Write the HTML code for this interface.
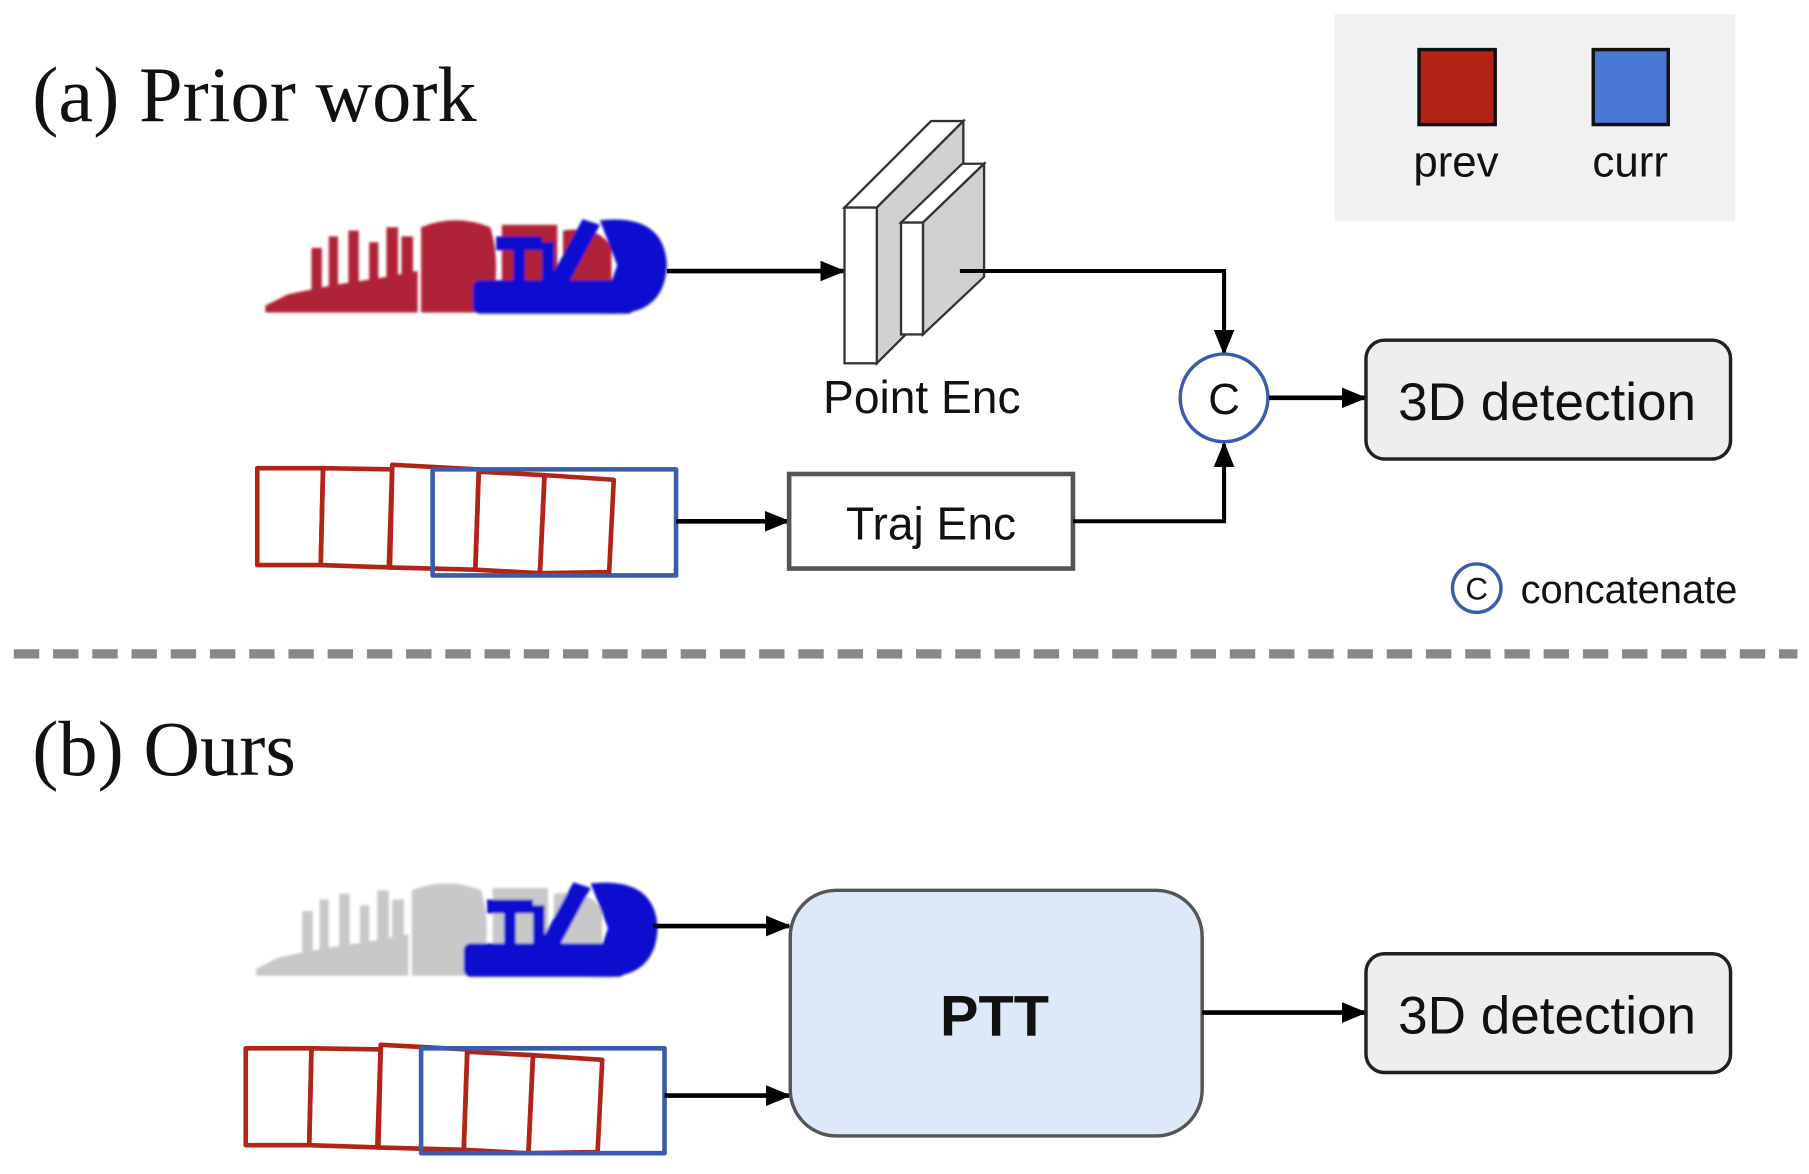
<!DOCTYPE html>
<html><head><meta charset="utf-8"><style>
html,body{margin:0;padding:0;background:#fff;}
svg{display:block;}
text{font-family:"Liberation Sans",sans-serif;fill:#111;}
.serif{font-family:"Liberation Serif",serif;}
</style></head><body>
<svg width="1809" height="1174" viewBox="0 0 1568 1018" preserveAspectRatio="none" xmlns="http://www.w3.org/2000/svg">
<defs>
<marker id="ar" markerWidth="22" markerHeight="18" refX="20" refY="9" orient="auto" markerUnits="userSpaceOnUse" viewBox="0 0 22 18">
<path d="M0,0 L22,9 L0,18 z" fill="#000"/></marker>
<filter id="bl"><feGaussianBlur stdDeviation="1.2"/></filter>
<pattern id="dots" width="5" height="5" patternUnits="userSpaceOnUse">
<rect width="5" height="5" fill="#fff"/><circle cx="3" cy="3" r="0.9" fill="#000"/></pattern>
<mask id="m"><rect x="0" y="0" width="1568" height="1018" fill="url(#dots)"/></mask>
<g id="back">
<polygon points="0,80 20,70 60,62 100,56 132,50 132,86 0,86"/>
<rect x="40" y="30" width="9" height="45"/><rect x="55" y="20" width="8" height="55"/>
<rect x="72" y="15" width="9" height="60"/><rect x="90" y="25" width="8" height="50"/>
<rect x="105" y="12" width="10" height="64"/><rect x="118" y="20" width="10" height="60"/>
<path d="M135,12 Q165,0 195,12 Q205,45 195,86 L135,86 Z"/>
<rect x="205" y="10" width="48" height="62"/>
<path d="M258,15 Q290,10 300,30 L300,80 L258,80 Z"/>
</g>
<g id="front">
<rect x="180" y="58" width="140" height="29" rx="6"/>
<rect x="200" y="20" width="40" height="12"/><rect x="215" y="25" width="10" height="35"/>
<polygon points="245,60 275,5 290,10 262,62"/><rect x="240" y="25" width="10" height="40"/>
<path d="M290,6 Q346,0 348,45 Q346,88 300,87 L290,87 L305,45 Z"/>
</g>
</defs>

<text x="28" y="105" class="serif" font-size="68">(a) Prior work</text>
<rect x="1157" y="12" width="347" height="180" fill="#f1f1f1"/>
<rect x="1230" y="43" width="66" height="65" fill="#b22418" stroke="#111" stroke-width="3"/>
<rect x="1381" y="43" width="65" height="65" fill="#4a78d4" stroke="#111" stroke-width="3"/>
<text x="1262" y="153" font-size="38" text-anchor="middle">prev</text>
<text x="1413" y="153" font-size="38" text-anchor="middle">curr</text>

<g transform="translate(230,185)" filter="url(#bl)">
<use href="#back" fill="#b02438"/><use href="#front" fill="#0a0ad0"/>
</g>
<line x1="578" y1="235" x2="731" y2="235" stroke="#000" stroke-width="4" marker-end="url(#ar)"/>

<g stroke="#333" stroke-width="2">
<polygon points="732,180 807,105 835,105 760,180" fill="#fff"/>
<polygon points="760,180 835,105 835,240 760,315" fill="#d0d0d0"/>
<rect x="732" y="180" width="28" height="135" fill="#fff"/>
<polygon points="781,193 834,142 853,142 800,193" fill="#fff"/>
<polygon points="800,193 853,142 853,240 800,290" fill="#d0d0d0"/>
<rect x="781" y="193" width="19" height="97" fill="#fff"/>
</g>
<text x="799" y="358" font-size="40" text-anchor="middle">Point Enc</text>
<polyline points="832,235 1061,235 1061,306" fill="none" stroke="#000" stroke-width="3.5" marker-end="url(#ar)"/>
<circle cx="1061" cy="345" r="38" fill="#fff" stroke="#3b5bab" stroke-width="3"/>
<text x="1061" y="359" font-size="38" text-anchor="middle">C</text>
<line x1="1100" y1="345" x2="1183" y2="345" stroke="#000" stroke-width="4" marker-end="url(#ar)"/>
<rect x="1184" y="295" width="316" height="103" rx="16" fill="#eeeeee" stroke="#222" stroke-width="3"/>
<text x="1341" y="364" font-size="46" text-anchor="middle">3D detection</text>

<g fill="none" stroke-width="4" stroke-linejoin="round">
<g stroke="#b22418">
<polygon points="223,406 280,406 278,490 223,490"/>
<polygon points="280,406 340,407 338,492 278,490"/>
<polygon points="340,403 415,407 412,494 337,492"/>
<polygon points="415,409 472,412 468,497 412,494"/>
<polygon points="472,412 532,416 528,496 468,497"/>
</g>
<rect x="375" y="407" width="211" height="92" stroke="#3b5bab"/>
</g>
<line x1="586" y1="452" x2="683" y2="452" stroke="#000" stroke-width="4" marker-end="url(#ar)"/>
<rect x="684" y="411" width="246" height="82" fill="#fff" stroke="#555" stroke-width="4"/>
<text x="807" y="468" font-size="40" text-anchor="middle">Traj Enc</text>
<polyline points="930,452 1061,452 1061,385" fill="none" stroke="#000" stroke-width="3.5" marker-end="url(#ar)"/>
<circle cx="1280" cy="510" r="21" fill="#fff" stroke="#3b5bab" stroke-width="3"/>
<text x="1280" y="520" font-size="27" text-anchor="middle">C</text>
<text x="1318" y="523" font-size="34.5">concatenate</text>

<line x1="12" y1="567" x2="1558" y2="567" stroke="#888" stroke-width="8" stroke-dasharray="22 12"/>

<text x="28" y="672" class="serif" font-size="68">(b) Ours</text>
<g transform="translate(222,760)" filter="url(#bl)">
<use href="#back" fill="#c8c8c8"/><use href="#front" fill="#0a0ad0"/>
</g>
<line x1="566" y1="803" x2="684" y2="803" stroke="#000" stroke-width="4" marker-end="url(#ar)"/>
<g fill="none" stroke-width="4" stroke-linejoin="round">
<g stroke="#b22418">
<polygon points="213,909 270,909 268,993 213,993"/>
<polygon points="270,909 330,910 328,995 268,993"/>
<polygon points="330,906 405,910 402,997 327,995"/>
<polygon points="405,912 462,915 458,1000 402,997"/>
<polygon points="462,915 522,919 518,999 458,1000"/>
</g>
<rect x="365" y="909" width="211" height="91" stroke="#3b5bab"/>
</g>
<line x1="576" y1="950" x2="684" y2="950" stroke="#000" stroke-width="4" marker-end="url(#ar)"/>
<rect x="685" y="772" width="357" height="213" rx="40" fill="#dde8f8" stroke="#555" stroke-width="3"/>
<text x="862" y="898" font-size="50" font-weight="bold" text-anchor="middle">PTT</text>
<line x1="1042" y1="878" x2="1183" y2="878" stroke="#000" stroke-width="4" marker-end="url(#ar)"/>
<rect x="1184" y="827" width="316" height="103" rx="16" fill="#eeeeee" stroke="#222" stroke-width="3"/>
<text x="1341" y="896" font-size="46" text-anchor="middle">3D detection</text>
</svg>
</body></html>
